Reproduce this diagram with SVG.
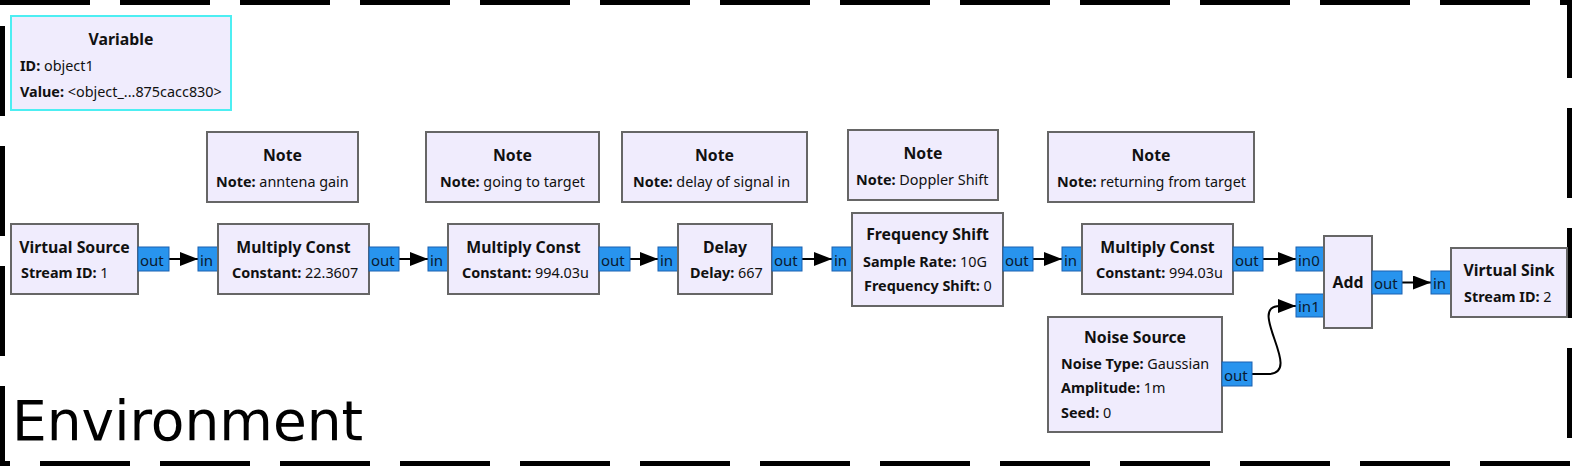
<svg xmlns="http://www.w3.org/2000/svg" width="1572" height="466" viewBox="0 0 1572 466">
<style>
.blk{fill:#F0ECFD;stroke:#666;stroke-width:2}
.var{fill:#F0ECFD;stroke:#4DEEF2;stroke-width:2}
.t{font-family:"Noto Sans","DejaVu Sans",sans-serif;font-size:15.8px;font-weight:bold;fill:#111;text-anchor:middle}
.p{font-family:"Noto Sans","DejaVu Sans",sans-serif;font-size:14.4px;fill:#111}
.p tspan.b{font-weight:bold}
.port{fill:#2894EE;stroke:#1A60B0;stroke-width:1}
.pl{font-family:"Noto Sans","DejaVu Sans",sans-serif;font-size:15px;fill:#0a1a30}
.c{fill:none;stroke:#000;stroke-width:2}
.bd{stroke:#000;stroke-width:5;stroke-dasharray:90 30;fill:none}
</style>
<defs>
<marker id="ah" markerUnits="userSpaceOnUse" markerWidth="18" markerHeight="14" refX="18" refY="7" orient="auto">
<path d="M0,0 L18,7 L0,14 z" fill="#000"/>
</marker>
</defs>

<g id="border">
<line class="bd" x1="0" y1="2.5" x2="1572" y2="2.5"/>
<line class="bd" x1="1569.5" y1="0" x2="1569.5" y2="466" stroke-dashoffset="12"/>
<line class="bd" x1="0" y1="463.5" x2="1572" y2="463.5" stroke-dashoffset="80"/>
<line class="bd" x1="2.5" y1="0" x2="2.5" y2="466" stroke-dashoffset="94"/>
<text x="12" y="440" font-family="DejaVu Sans, sans-serif" font-size="55" fill="#000">Environment</text>
</g>

<g id="connectors">
<line class="c" x1="169" y1="259" x2="198" y2="259" marker-end="url(#ah)"/>
<line class="c" x1="399" y1="259" x2="428" y2="259" marker-end="url(#ah)"/>
<line class="c" x1="630" y1="259" x2="658" y2="259" marker-end="url(#ah)"/>
<line class="c" x1="802" y1="259" x2="832" y2="259" marker-end="url(#ah)"/>
<line class="c" x1="1033" y1="259" x2="1062" y2="259" marker-end="url(#ah)"/>
<line class="c" x1="1263" y1="259" x2="1296" y2="259" marker-end="url(#ah)"/>
<line class="c" x1="1402" y1="282.5" x2="1431" y2="282.5" marker-end="url(#ah)"/>
<path class="c" d="M1252,374 H1268 C1305,374 1245,306 1280,306 L1296,306" marker-end="url(#ah)"/>
</g>

<g id="variable">
<rect class="var" x="11" y="16" width="220" height="94"/>
<text class="t" x="121" y="45">Variable</text>
<text class="p" x="20" y="71"><tspan class="b">ID:</tspan> object1</text>
<text class="p" x="20" y="97"><tspan class="b">Value:</tspan> &lt;object_...875cacc830&gt;</text>
</g>

<g id="note1">
<rect class="blk" x="207" y="132" width="151" height="70"/>
<text class="t" x="282.5" y="161">Note</text>
<text class="p" x="216" y="187"><tspan class="b">Note:</tspan> anntena gain</text>
</g>
<g id="note2">
<rect class="blk" x="426" y="132" width="173" height="70"/>
<text class="t" x="512.5" y="161">Note</text>
<text class="p" x="440" y="187"><tspan class="b">Note:</tspan> going to target</text>
</g>
<g id="note3">
<rect class="blk" x="622" y="132" width="185" height="70"/>
<text class="t" x="714.5" y="161">Note</text>
<text class="p" x="633" y="187"><tspan class="b">Note:</tspan> delay of signal in</text>
</g>
<g id="note4">
<rect class="blk" x="848" y="130" width="150" height="70"/>
<text class="t" x="923" y="159">Note</text>
<text class="p" x="856" y="185"><tspan class="b">Note:</tspan> Doppler Shift</text>
</g>
<g id="note5">
<rect class="blk" x="1048" y="132" width="206" height="70"/>
<text class="t" x="1151" y="161">Note</text>
<text class="p" x="1057" y="187"><tspan class="b">Note:</tspan> returning from target</text>
</g>

<g id="virtual_source">
<rect class="blk" x="11" y="224" width="127" height="70"/>
<text class="t" x="74.5" y="253">Virtual Source</text>
<text class="p" x="21" y="278"><tspan class="b">Stream ID:</tspan> 1</text>
<rect class="port" x="138" y="247" width="31" height="24"/>
<text class="pl" x="140" y="266">out</text>
</g>

<g id="multiply_const_1">
<rect class="port" x="198" y="247" width="20" height="24"/>
<text class="pl" x="200" y="266">in</text>
<rect class="blk" x="218" y="224" width="151" height="70"/>
<text class="t" x="293.5" y="253">Multiply Const</text>
<text class="p" x="232" y="278"><tspan class="b">Constant:</tspan> 22.3607</text>
<rect class="port" x="369" y="247" width="30" height="24"/>
<text class="pl" x="371" y="266">out</text>
</g>

<g id="multiply_const_2">
<rect class="port" x="428" y="247" width="20" height="24"/>
<text class="pl" x="430" y="266">in</text>
<rect class="blk" x="448" y="224" width="151" height="70"/>
<text class="t" x="523.5" y="253">Multiply Const</text>
<text class="p" x="462" y="278"><tspan class="b">Constant:</tspan> 994.03u</text>
<rect class="port" x="599" y="247" width="31" height="24"/>
<text class="pl" x="601" y="266">out</text>
</g>

<g id="delay">
<rect class="port" x="658" y="247" width="20" height="24"/>
<text class="pl" x="660" y="266">in</text>
<rect class="blk" x="678" y="224" width="94" height="70"/>
<text class="t" x="725" y="253">Delay</text>
<text class="p" x="690" y="278"><tspan class="b">Delay:</tspan> 667</text>
<rect class="port" x="772" y="247" width="30" height="24"/>
<text class="pl" x="774" y="266">out</text>
</g>

<g id="frequency_shift">
<rect class="port" x="832" y="247" width="20" height="24"/>
<text class="pl" x="834" y="266">in</text>
<rect class="blk" x="852" y="213" width="151" height="93"/>
<text class="t" x="927.5" y="240">Frequency Shift</text>
<text class="p" x="863" y="267"><tspan class="b">Sample Rate:</tspan> 10G</text>
<text class="p" x="864" y="291"><tspan class="b">Frequency Shift:</tspan> 0</text>
<rect class="port" x="1003" y="247" width="30" height="24"/>
<text class="pl" x="1005" y="266">out</text>
</g>

<g id="multiply_const_3">
<rect class="port" x="1062" y="247" width="20" height="24"/>
<text class="pl" x="1064" y="266">in</text>
<rect class="blk" x="1082" y="224" width="151" height="70"/>
<text class="t" x="1157.5" y="253">Multiply Const</text>
<text class="p" x="1096" y="278"><tspan class="b">Constant:</tspan> 994.03u</text>
<rect class="port" x="1233" y="247" width="30" height="24"/>
<text class="pl" x="1235" y="266">out</text>
</g>

<g id="add">
<rect class="port" x="1296" y="247" width="28" height="24"/>
<text class="pl" x="1298" y="266">in0</text>
<rect class="port" x="1296" y="294" width="28" height="23"/>
<text class="pl" x="1298" y="312">in1</text>
<rect class="blk" x="1324" y="236" width="48" height="92"/>
<text class="t" x="1348" y="288">Add</text>
<rect class="port" x="1372" y="271" width="30" height="23"/>
<text class="pl" x="1374" y="289">out</text>
</g>

<g id="virtual_sink">
<rect class="port" x="1431" y="271" width="20" height="23"/>
<text class="pl" x="1433" y="289">in</text>
<rect class="blk" x="1451" y="248" width="116" height="69"/>
<text class="t" x="1509" y="276">Virtual Sink</text>
<text class="p" x="1464" y="302"><tspan class="b">Stream ID:</tspan> 2</text>
</g>

<g id="noise_source">
<rect class="blk" x="1048" y="317" width="174" height="115"/>
<text class="t" x="1135" y="343">Noise Source</text>
<text class="p" x="1061" y="369"><tspan class="b">Noise Type:</tspan> Gaussian</text>
<text class="p" x="1061" y="393"><tspan class="b">Amplitude:</tspan> 1m</text>
<text class="p" x="1061" y="418"><tspan class="b">Seed:</tspan> 0</text>
<rect class="port" x="1222" y="362" width="30" height="24"/>
<text class="pl" x="1224" y="381">out</text>
</g>
</svg>
